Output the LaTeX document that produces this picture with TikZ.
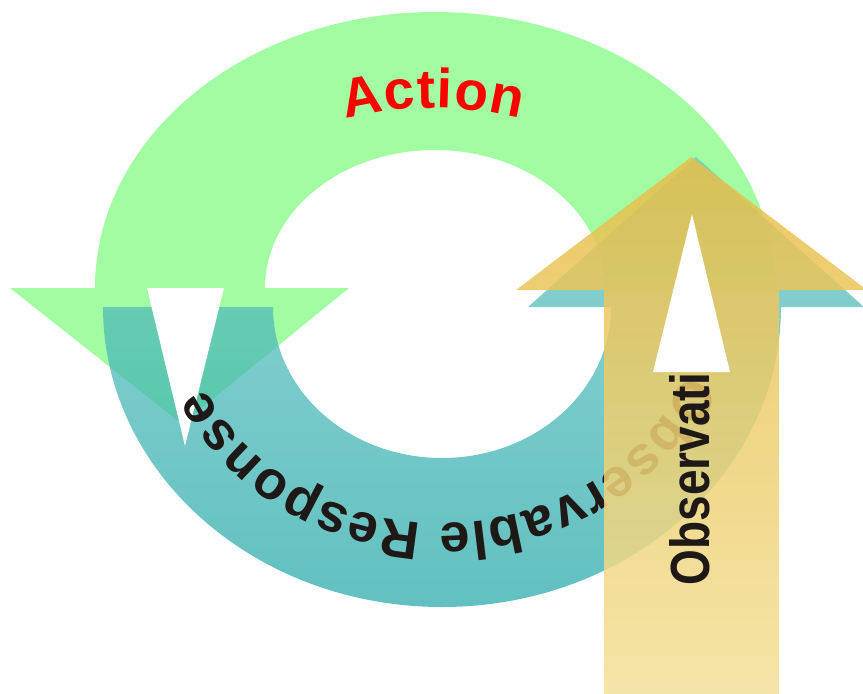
\documentclass[tikz,border=0pt]{standalone}
\usepackage{fontspec}
\setmainfont{Liberation Sans}
\usetikzlibrary{decorations.text,calc}

\definecolor{ringgreen}{RGB}{162,253,162}
\definecolor{tealtop}{RGB}{100,195,195}
\definecolor{tealbot}{RGB}{37,168,168}
\definecolor{goldtop}{RGB}{232,190,72}
\definecolor{goldbot}{RGB}{243,224,154}
\definecolor{inkdark}{RGB}{30,25,22}

\tikzset{
  notch/.style={fill=white},
}

\begin{document}
\begin{tikzpicture}[x=1pt,y=1pt]
\useasboundingbox (0,0) rectangle (863,-694);

% upper half ring turning into a downward arrow on the left
\fill[ringgreen] (775,-288)
  arc[start angle=0,end angle=180,x radius=340,y radius=276]
  -- (10,-288) -- (182,-424) -- (349,-288) -- (265,-288)
  arc[start angle=180,end angle=0,x radius=170,y radius=138] -- cycle;

% lower half ring turning into an upward arrow on the right
\shade[top color=tealtop,bottom color=tealbot,fill opacity=0.72] (103,-307)
  arc[start angle=180,end angle=360,x radius=339,y radius=300]
  -- (864,-307) -- (696,-157) -- (528,-307) -- (611,-307)
  arc[start angle=0,end angle=-180,x radius=169,y radius=151] -- cycle;

% notch in the left arrow head
\fill[notch] (147,-288) -- (224,-288) -- (185,-446) -- cycle;

% label along the lower ring
\path[decorate,decoration={text along path,
    text={|\fontsize{54}{54}\selectfont\bfseries\color{inkdark}|Observable Response},
    text align=fit to path}]
  ($(442,-307)+(-18:255 and 216)$)
  arc[start angle=-18,end angle=-158,x radius=255,y radius=216];

% label along the upper ring
\path[decorate,decoration={text along path,
    text={|\fontsize{55}{55}\selectfont\bfseries\color{red}|Action},
    text align=fit to path}]
  ($(433,-468)+(104.1:360)$)
  arc[start angle=104.1,end angle=75.9,radius=360];

% vertical arrow on the right
\shade[top color=goldtop,bottom color=goldbot,fill opacity=0.86]
  (604,-694) -- (604,-290) -- (516,-290) -- (691.5,-157) -- (867,-290)
  -- (779,-290) -- (779,-694) -- cycle;
\fill[notch] (653,-372) -- (730,-372) -- (692,-214) -- cycle;

\node[rotate=90,text=inkdark,font=\fontsize{46}{46}\selectfont\bfseries,inner sep=0pt]
  (obs) at (690,-479) {\scalebox{1.0}[1.2]{Observati}};
\end{tikzpicture}
\end{document}
